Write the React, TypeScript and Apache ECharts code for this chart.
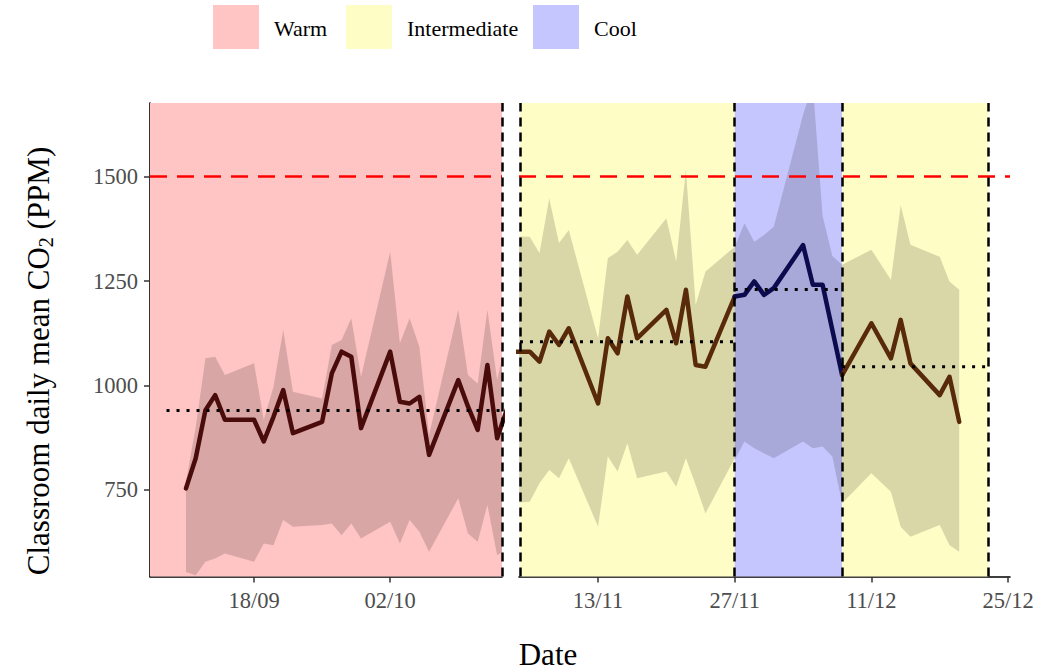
import React, { useEffect, useRef } from "react";
import * as echarts from "echarts";

// ---------- data ----------
const warmDates = ["2023-09-11","2023-09-12","2023-09-13","2023-09-14","2023-09-15","2023-09-18","2023-09-19","2023-09-20","2023-09-21","2023-09-22","2023-09-25","2023-09-26","2023-09-27","2023-09-28","2023-09-29","2023-10-02","2023-10-03","2023-10-04","2023-10-05","2023-10-06","2023-10-09","2023-10-10","2023-10-11","2023-10-12","2023-10-13","2023-10-16"];
const warmMean = [754,826,941,977,918,918,866,925,989,886,913,1029,1081,1069,898,1081,961,957,973,834,1013,950,894,1049,874,1080];
const warmLow = [554,546,578,586,598,578,622,618,678,662,666,670,642,670,634,674,622,678,650,602,730,646,626,714,594,640];
const warmHigh = [770,900,1065,1069,1025,1053,918,997,1133,985,969,1097,1109,1161,1021,1320,1101,1161,1093,882,1181,1025,1005,1181,1013,1330];

const int1Dates = ["2023-11-03","2023-11-06","2023-11-07","2023-11-08","2023-11-09","2023-11-10","2023-11-13","2023-11-14","2023-11-15","2023-11-16","2023-11-17","2023-11-20","2023-11-21","2023-11-22","2023-11-23","2023-11-24","2023-11-27"];
const int1Mean = [1080,1081,1057,1129,1097,1137,957,1113,1077,1213,1113,1181,1101,1229,1049,1045,1213];
const int1Low = [717,722,766,798,778,826,662,830,794,862,778,794,758,826,762,694,826];
const int1High = [1357,1356,1317,1448,1341,1372,1113,1305,1320,1348,1313,1400,1297,1516,1193,1273,1332];

const coolDates = ["2023-11-27","2023-11-28","2023-11-29","2023-11-30","2023-12-01","2023-12-04","2023-12-05","2023-12-06","2023-12-07","2023-12-08"];
const coolMean = [1213,1217,1249,1217,1233,1336,1241,1241,1133,1025];
const coolLow = [822,866,850,838,826,866,850,854,830,718];
const coolHigh = [1332,1388,1344,1360,1380,1648,1720,1406,1310,1289];

const int2Dates = ["2023-12-08","2023-12-11","2023-12-13","2023-12-14","2023-12-15","2023-12-18","2023-12-19","2023-12-20"];
const int2Mean = [1025,1149,1065,1157,1053,977,1021,913];
const int2Low = [718,790,746,662,638,666,618,602];
const int2High = [1289,1325,1253,1432,1337,1308,1249,1229];

// period averages (dotted lines) and boundaries
const warmAvg = 940;
const int1Avg = 1105;
const coolAvg = 1230;
const int2Avg = 1045;
const warmSpan = ["2023-09-09", "2023-10-13"];
const int1Span = ["2023-11-05", "2023-11-27"];
const coolSpan = ["2023-11-27", "2023-12-08"];
const int2Span = ["2023-12-08", "2023-12-23"];

const xTicksLeft = ["2023-09-18", "2023-10-02"];
const xTicksRight = ["2023-11-13", "2023-11-27", "2023-12-11", "2023-12-25"];
const yTicks = [750, 1000, 1250, 1500];
const threshold = 1500;

const legendNames = ["Warm", "Intermediate", "Cool"];

// ---------- helpers ----------
const BASE = Date.UTC(2023, 8, 4);
const toDay = (s: string) =>
  (Date.UTC(+s.slice(0, 4), +s.slice(5, 7) - 1, +s.slice(8, 10)) - BASE) / 86400000;
const fmtDay = (d: number) => {
  const dt = new Date(BASE + Math.round(d) * 86400000);
  const dd = String(dt.getUTCDate()).padStart(2, "0");
  const mm = String(dt.getUTCMonth() + 1).padStart(2, "0");
  return `${dd}/${mm}`;
};

const FONT = '"Liberation Serif", "Times New Roman", serif';
const WARM_BG = "#FFC4C4";
const INT_BG = "#FFFDC6";
const COOL_BG = "#C6C6FF";
const BAND = "rgba(0,0,0,0.15)";

const leftRange = [3.3, 39.5];
const rightRange = [61.9, 112.2];
const yRange = [543, 1676];

export default function App() {
  const ref = useRef<HTMLDivElement>(null);
  useEffect(() => {
    document.body.style.margin = "0";
    if (!ref.current) return;
    const chart = echarts.init(ref.current, undefined, { renderer: "svg" });

    const periods = [
      { g: 0, dates: warmDates, mean: warmMean, low: warmLow, high: warmHigh, avg: warmAvg, span: warmSpan, color: "#4a0b0b" },
      { g: 1, dates: int1Dates, mean: int1Mean, low: int1Low, high: int1High, avg: int1Avg, span: int1Span, color: "#58290b" },
      { g: 1, dates: coolDates, mean: coolMean, low: coolLow, high: coolHigh, avg: coolAvg, span: coolSpan, color: "#0b0b4e" },
      { g: 1, dates: int2Dates, mean: int2Mean, low: int2Low, high: int2High, avg: int2Avg, span: int2Span, color: "#58290b" },
    ];

    const series: any[] = [];

    // backgrounds
    series.push({
      type: "line", xAxisIndex: 0, yAxisIndex: 0, data: [], z: 1, silent: true,
      markArea: {
        silent: true,
        data: [[{ xAxis: leftRange[0], itemStyle: { color: WARM_BG } }, { xAxis: leftRange[1] }]],
      },
    });
    series.push({
      type: "line", xAxisIndex: 1, yAxisIndex: 1, data: [], z: 1, silent: true,
      markArea: {
        silent: true,
        data: [
          [{ xAxis: toDay(int1Span[0]), itemStyle: { color: INT_BG } }, { xAxis: toDay(int1Span[1]) }],
          [{ xAxis: toDay(coolSpan[0]), itemStyle: { color: COOL_BG } }, { xAxis: toDay(coolSpan[1]) }],
          [{ xAxis: toDay(int2Span[0]), itemStyle: { color: INT_BG } }, { xAxis: toDay(int2Span[1]) }],
        ],
      },
    });

    periods.forEach((p) => {
      const days = p.dates.map(toDay);
      const rows = days.map((d, k) => [d, p.low[k], p.high[k]]);
      series.push({
        type: "custom", xAxisIndex: p.g, yAxisIndex: p.g, silent: true, z: 2,
        data: rows,
        encode: { x: 0, y: [1, 2] },
        renderItem: (params: any, api: any) => {
          if (params.dataIndex !== 0) return null;
          const pts: number[][] = [];
          rows.forEach((r) => pts.push(api.coord([r[0], r[2]])));
          for (let k = rows.length - 1; k >= 0; k--) pts.push(api.coord([rows[k][0], rows[k][1]]));
          const cs = params.coordSys;
          return {
            type: "polygon",
            shape: { points: pts },
            style: { fill: BAND },
            clipPath: { type: "rect", shape: { x: cs.x, y: cs.y, width: cs.width, height: cs.height } },
          };
        },
      });
      series.push({
        type: "line", xAxisIndex: p.g, yAxisIndex: p.g, symbol: "none", silent: true,
        data: days.map((d, k) => [d, p.mean[k]]),
        lineStyle: { color: p.color, width: 4.5, join: "round", cap: "round" }, z: 3,
      });
      const s0 = Math.max(toDay(p.span[0]), p.g === 0 ? leftRange[0] : rightRange[0]);
      const s1 = p.g === 0 ? leftRange[1] : toDay(p.span[1]);
      series.push({
        type: "line", xAxisIndex: p.g, yAxisIndex: p.g, symbol: "none", silent: true,
        data: [[s0, p.avg], [s1, p.avg]],
        lineStyle: { color: "#000", width: 3, type: [3, 7] }, z: 4,
      });
    });

    // reference lines
    const vStyle = { color: "#000", width: 2.5, type: [9, 6] };
    const rStyle = { color: "#FF0000", width: 2.5, type: [17, 10] };
    series.push({
      type: "line", xAxisIndex: 0, yAxisIndex: 0, data: [], z: 6, silent: true,
      markLine: {
        silent: true, symbol: ["none", "none"], label: { show: false },
        data: [
          { yAxis: threshold, lineStyle: rStyle },
          { xAxis: leftRange[1], lineStyle: vStyle },
        ],
      },
    });
    series.push({
      type: "line", xAxisIndex: 1, yAxisIndex: 1, data: [], z: 6, silent: true,
      markLine: {
        silent: true, symbol: ["none", "none"], label: { show: false },
        data: [
          { yAxis: threshold, lineStyle: rStyle },
          { xAxis: toDay(int1Span[0]), lineStyle: vStyle },
          { xAxis: toDay(coolSpan[0]), lineStyle: vStyle },
          { xAxis: toDay(coolSpan[1]), lineStyle: vStyle },
          { xAxis: toDay(int2Span[1]), lineStyle: vStyle },
        ],
      },
    });

    const xAxisCommon = (ticks: string[], range: number[], g: number) => ({
      type: "value", gridIndex: g, min: range[0], max: range[1],
      axisLine: { show: true, lineStyle: { color: "#000", width: 1.6 } },
      axisTick: { show: true, length: 6, lineStyle: { color: "#333", width: 1.5 }, customValues: ticks.map(toDay) },
      axisLabel: {
        show: true, customValues: ticks.map(toDay), formatter: (v: number) => fmtDay(v),
        fontFamily: FONT, fontSize: 22.5, color: "#4d4d4d", margin: 12,
      },
      splitLine: { show: false },
    });

    const legendBg = [WARM_BG, INT_BG, COOL_BG];
    const legendX = [213, 346, 533];
    const graphic: any[] = [];
    legendNames.forEach((n, i) => {
      graphic.push({ type: "rect", left: legendX[i], top: 5, shape: { width: 46, height: 44 }, style: { fill: legendBg[i] } });
      graphic.push({
        type: "text", x: legendX[i] + 61, y: 28,
        style: { text: n, fontFamily: FONT, fontSize: 22, fill: "#000", align: "left", verticalAlign: "middle" },
      });
    });
    graphic.push({
      type: "text", x: 38, y: 361, rotation: Math.PI / 2,
      style: {
        text: "Classroom daily mean CO{sub|2} (PPM)",
        fontFamily: FONT, fontSize: 31, lineHeight: 35, fill: "#000", align: "center", verticalAlign: "middle",
        rich: { sub: { fontFamily: FONT, fontSize: 20, lineHeight: 20, verticalAlign: "bottom", fill: "#000" } },
      },
    });
    graphic.push({
      type: "text", x: 548, y: 654,
      style: { text: "Date", fontFamily: FONT, fontSize: 31, fill: "#000", align: "center", verticalAlign: "middle" },
    });

    chart.setOption({
      animation: false,
      backgroundColor: "#fff",
      grid: [
        { left: 150, top: 103, width: 352, height: 473.5 },
        { left: 519, top: 103, width: 491, height: 473.5 },
      ],
      xAxis: [xAxisCommon(xTicksLeft, leftRange, 0), xAxisCommon(xTicksRight, rightRange, 1)],
      yAxis: [
        {
          type: "value", gridIndex: 0, min: yRange[0], max: yRange[1],
          axisLine: { show: true, lineStyle: { color: "#000", width: 1.6 } },
          axisTick: { show: true, length: 6, lineStyle: { color: "#333", width: 1.5 }, customValues: yTicks },
          axisLabel: {
            show: true, customValues: yTicks, formatter: (v: number) => String(v),
            fontFamily: FONT, fontSize: 22.5, color: "#4d4d4d", margin: 12,
          },
          splitLine: { show: false },
        },
        { type: "value", gridIndex: 1, min: yRange[0], max: yRange[1], show: false, splitLine: { show: false } },
      ],
      graphic,
      series,
    });

    return () => chart.dispose();
  }, []);

  return <div ref={ref} style={{ width: 1048, height: 671 }} />;
}
